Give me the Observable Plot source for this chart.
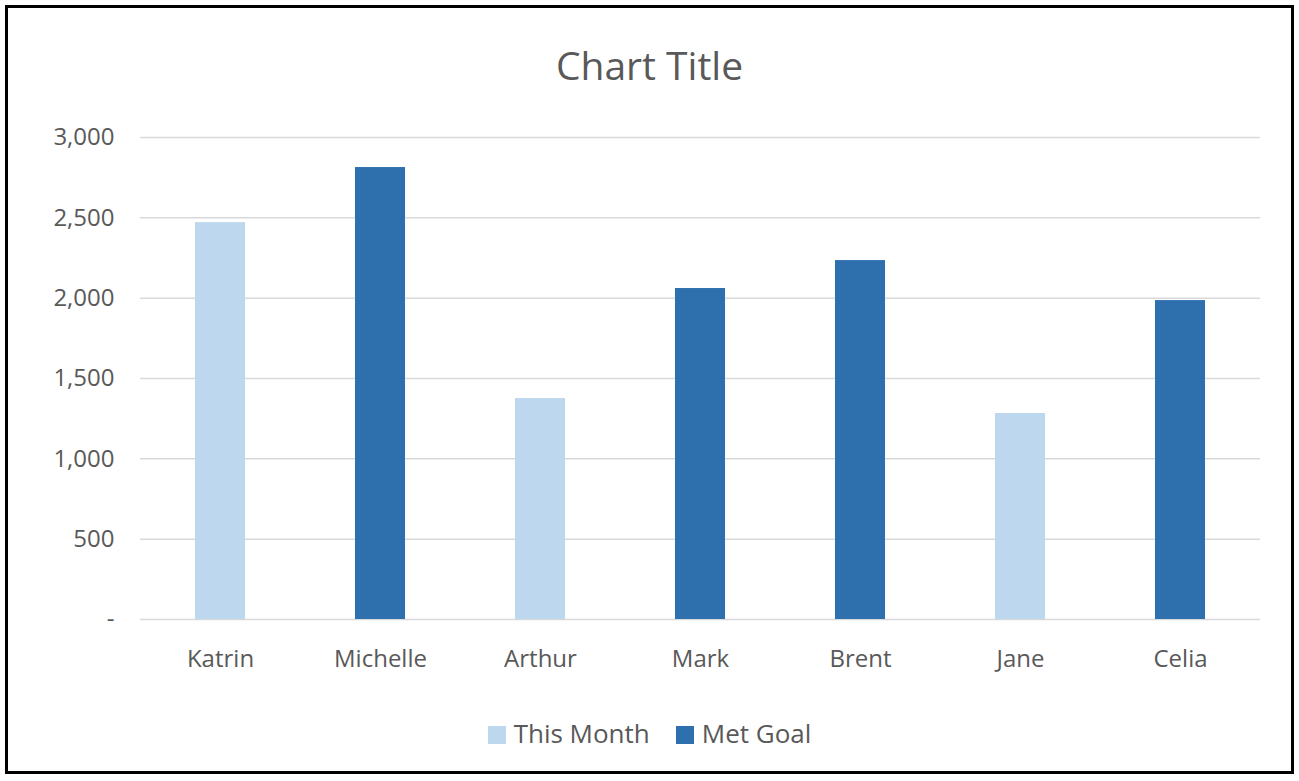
<!DOCTYPE html>
<html><head><meta charset="utf-8">
<script src="https://cdn.jsdelivr.net/npm/d3@7"></script>
<script src="https://cdn.jsdelivr.net/npm/@observablehq/plot@0.6"></script>
<style>
body{margin:0;background:#fff;font-family:"Open Sans","Noto Sans",sans-serif;color:#595959}
#frame{position:absolute;left:5px;top:5px;width:1289px;height:769px;border:3px solid #000;box-sizing:border-box}
#title{position:absolute;left:0;top:38px;width:1299px;text-align:center;font-size:39px}
#chart{position:absolute;left:0;top:0}
#legend{position:absolute;left:0;top:715px;width:1299px;display:flex;justify-content:center;gap:26px;font-size:26px}
#legend span.sw{display:inline-block;width:18px;height:18px;margin-right:8px;vertical-align:-1px}
</style></head><body>
<div id="chart"></div>
<div id="frame"></div>
<div id="title">Chart Title</div>
<div id="legend"></div>
<script>
const NAMES = ["Katrin", "Michelle", "Arthur", "Mark", "Brent", "Jane", "Celia"];
const VALUES = [2470, 2813, 1375, 2060, 2234, 1282, 1985];
const SERIES = ["This Month", "Met Goal", "This Month", "Met Goal", "Met Goal", "This Month", "Met Goal"];
const SERIES_NAMES = ["This Month", "Met Goal"];
const SERIES_COLORS = ["#BDD7EE", "#2E6FAE"];
const Y_TICKS = [0, 500, 1000, 1500, 2000, 2500, 3000];

const rows = NAMES.map((name, i) => ({ name, value: VALUES[i], series: SERIES[i] }));

const plot = Plot.plot({
  width: 1299, height: 700,
  marginLeft: 140, marginRight: 39, marginTop: 137, marginBottom: 81,
  style: { fontFamily: '"Open Sans","Noto Sans",sans-serif', fontSize: "24px", color: "#595959", background: "transparent" },
  x: { domain: NAMES, paddingInner: 0.69, paddingOuter: 0.345, label: null, tickSize: 0, tickPadding: 30 },
  y: { domain: [0, 3000], ticks: Y_TICKS, label: null, tickSize: 0, tickPadding: 26,
       tickFormat: d => d === 0 ? "-" : d3.format(",")(d) },
  color: { domain: SERIES_NAMES, range: SERIES_COLORS },
  marks: [
    Plot.ruleY(Y_TICKS, { stroke: "#d9d9d9", strokeWidth: 1.5 }),
    Plot.barY(rows, { x: "name", y: "value", fill: "series" })
  ]
});
document.getElementById("chart").append(plot);

const legend = document.getElementById("legend");
SERIES_NAMES.forEach((s, i) => {
  const item = document.createElement("div");
  item.innerHTML = `<span class="sw" style="background:${SERIES_COLORS[i]}"></span>${s}`;
  legend.append(item);
});
</script>
</body></html>
